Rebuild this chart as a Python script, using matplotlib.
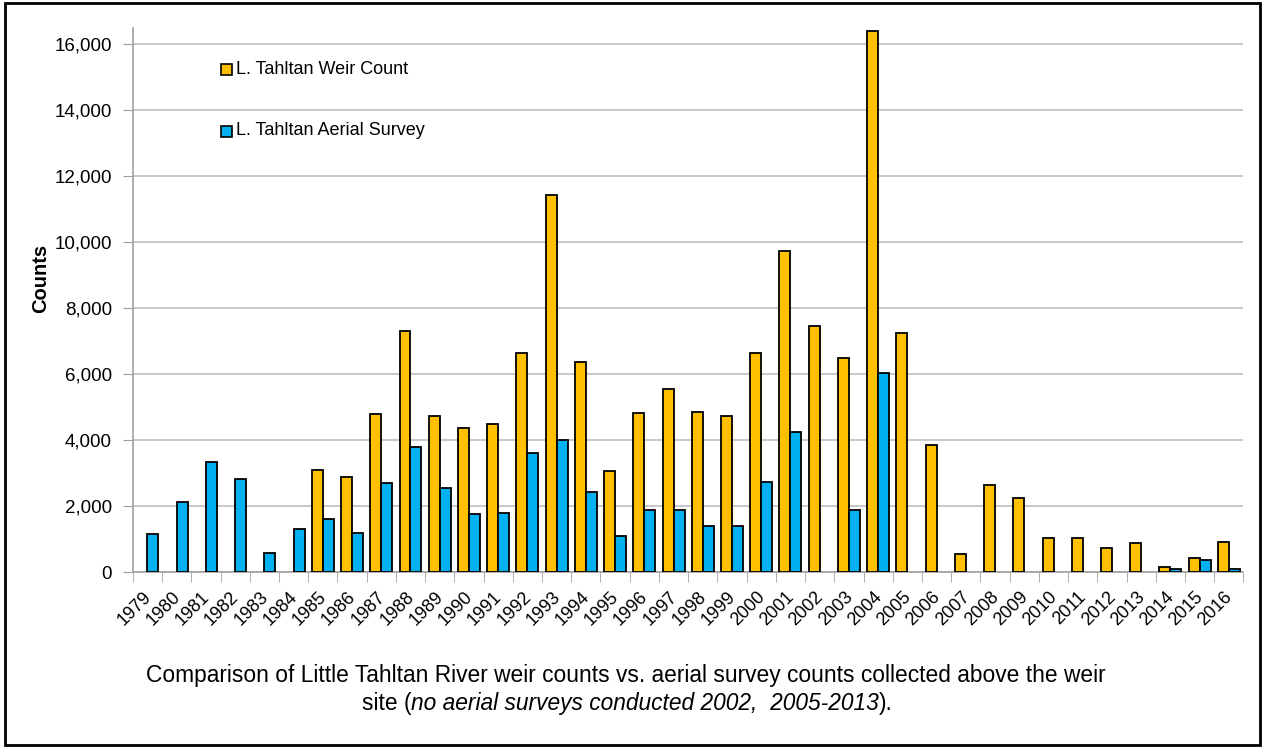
import numpy as np
import matplotlib
matplotlib.use("Agg")
import matplotlib.pyplot as plt
import matplotlib.transforms as mtransforms
from matplotlib.patches import Rectangle
from matplotlib.ticker import FuncFormatter, MultipleLocator

plt.rcParams['font.family'] = ['Liberation Sans', 'DejaVu Sans']

# -----------------------------
# DATA
# -----------------------------
years = list(range(1979, 2017))
nan = np.nan
weir_count = [nan, nan, nan, nan, nan, nan,
              3100, 2880, 4780, 7300, 4720, 4380, 4500, 6630, 11430, 6360,
              3070, 4820, 5560, 4850, 4720, 6630, 9730, 7470, 6500, 16400,
              7250, 3860, 560, 2650, 2240, 1050, 1050, 720, 880, 160, 440, 920]
aerial_survey = [1150, 2120, 3330, 2820, 575, 1300,
                 1600, 1180, 2700, 3790, 2550, 1750, 1790, 3600, 4000, 2420,
                 1100, 1900, 1900, 1400, 1400, 2720, 4240, nan, 1900, 6030,
                 nan, nan, nan, nan, nan, nan, nan, nan, nan, 100, 380, 100]
series_names = ["L. Tahltan Weir Count", "L. Tahltan Aerial Survey"]
caption_1 = "Comparison of Little Tahltan River weir counts vs. aerial survey counts collected above the weir"
caption_2 = ["site (", "no aerial surveys conducted 2002,  2005-2013", ")."]

ORANGE = "#FFC000"
BLUE = "#00B0F0"

# -----------------------------
# PLOT
# -----------------------------
fig = plt.figure(figsize=(12.65, 7.48), dpi=100)
ax = fig.add_axes([0.105, 0.235, 0.878, 0.728])

x = np.arange(len(years))
w = 0.375
ax.bar(x - w / 2, weir_count, w, color=ORANGE, edgecolor="black", lw=1.3, zorder=3)
ax.bar(x + w / 2, aerial_survey, w, color=BLUE, edgecolor="black", lw=1.3, zorder=3)

ax.set_xlim(-0.5, len(years) - 0.5)
ax.set_ylim(0, 16500)
ax.yaxis.set_major_locator(MultipleLocator(2000))
ax.yaxis.set_major_formatter(FuncFormatter(lambda v, p: f"{int(v):,}"))
ax.grid(axis="y", color="#BFBFBF", lw=1.2, zorder=0)
ax.tick_params(axis="y", labelsize=13.5, length=7, color="#A0A0A0", pad=8)

ax.set_xticks(x)
ax.set_xticklabels([str(y) for y in years], rotation=45, ha="right", va="top",
                   rotation_mode="anchor", fontsize=13)
ax.tick_params(axis="x", length=0, pad=0)
shift = mtransforms.ScaledTranslation(-0.05, -0.16, fig.dpi_scale_trans)
for lab in ax.get_xticklabels():
    lab.set_transform(lab.get_transform() + shift)
ax.set_xticks(np.arange(-0.5, len(years)), minor=True)
ax.tick_params(axis="x", which="minor", length=7, color="#A0A0A0")

for s in ["top", "right"]:
    ax.spines[s].set_visible(False)
for s in ["left", "bottom"]:
    ax.spines[s].set_color("#A0A0A0")
    ax.spines[s].set_linewidth(1.2)

fig.text(0.032, 0.628, "Counts", fontsize=14.5, fontweight="bold",
         rotation=90, ha="center", va="center")

# legend
for i, (name, col) in enumerate(zip(series_names, [ORANGE, BLUE])):
    yy = 0.907 - i * 0.082
    fig.patches.append(Rectangle((0.1745, yy - 0.0075), 0.0087, 0.0147,
                                 transform=fig.transFigure, facecolor=col,
                                 edgecolor="black", lw=1.2))
    fig.text(0.1865, yy, name, fontsize=13, va="center", ha="left")

# caption
fig.text(0.495, 0.097, caption_1, fontsize=16.4, ha="center", va="center")

renderer = fig.canvas.get_renderer()
parts = []
for i, t in enumerate(caption_2):
    parts.append(fig.text(0, 0.060, t, fontsize=16.4, va="center",
                          style="italic" if i == 1 else "normal"))
widths = [p.get_window_extent(renderer).width / fig.bbox.width for p in parts]
x0 = 0.496 - sum(widths) / 2
for p, wd in zip(parts, widths):
    p.set_x(x0)
    x0 += wd

# outer frame
fig.patches.append(Rectangle((0.004, 0.004), 0.992, 0.992, transform=fig.transFigure,
                             fill=False, edgecolor="black", lw=2))

fig.savefig("out.png", dpi=100)
